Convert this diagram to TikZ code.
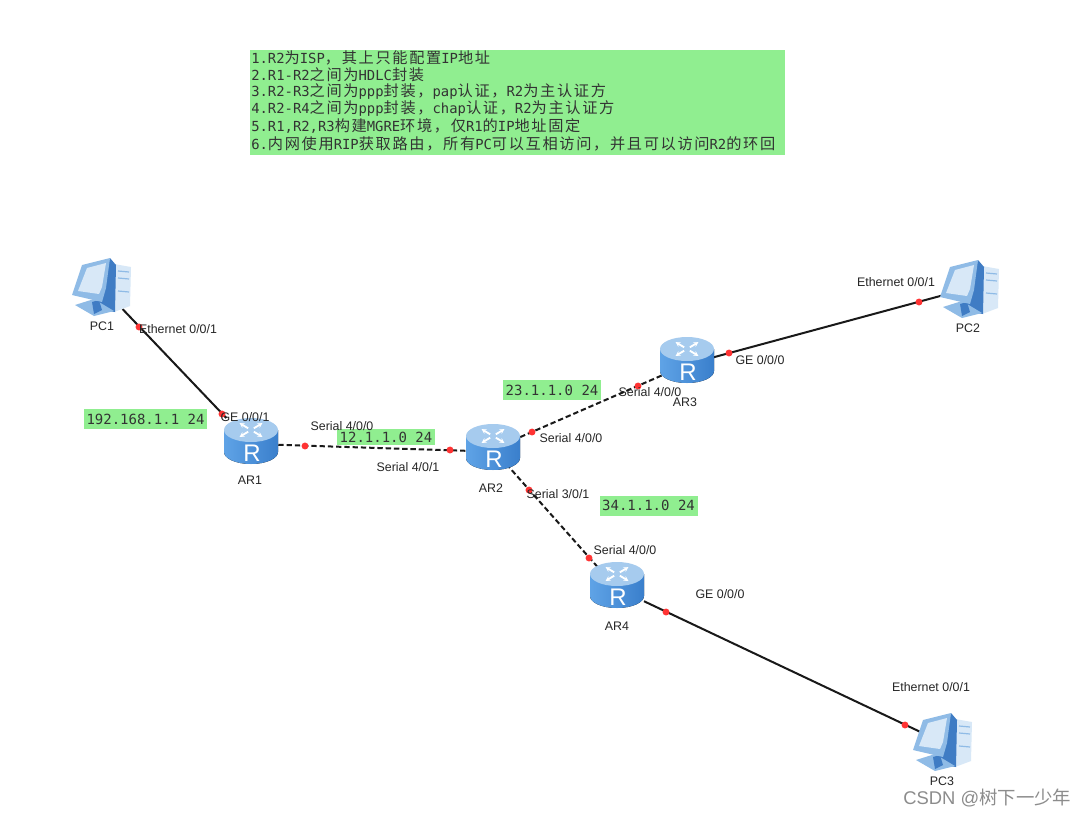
\documentclass[tikz,border=0pt]{standalone}
\usepackage{fontspec}
\usetikzlibrary{arrows.meta}
\setmainfont{Liberation Sans}
\newfontfamily\monof{DejaVu Sans Mono}
\newfontfamily\cjkf{Noto Sans CJK SC}
\newfontfamily\cjkw[LetterSpace=11]{Noto Sans CJK SC}
\newcommand{\zh}[1]{{\cjkw\fontsize{11.4}{11.4}\selectfont #1}}
\definecolor{noteg}{HTML}{90EE90}
\definecolor{rtop}{HTML}{A6CBEE}
\definecolor{rbodyL}{HTML}{5FA3E6}
\definecolor{rbodyR}{HTML}{3A7FCC}
\definecolor{pclight}{HTML}{D8E8F7}
\definecolor{pcmid}{HTML}{8FBBE6}
\definecolor{pcdark}{HTML}{3F7CC4}
\tikzset{
  x=0.75pt,y=-0.75pt,
  devbox/.style={inner sep=0pt,outer sep=0pt,minimum width=40.5pt,minimum height=34.5pt},
  pcbox/.style={inner sep=0pt,outer sep=0pt,minimum width=33pt,minimum height=33pt},
  port/.style={circle,fill=red!80!white,inner sep=0pt,minimum size=5.2pt},
  solidlink/.style={draw=black!90,line width=1.5pt},
  seriallink/.style={draw=black!90,line width=1.5pt,dash pattern=on 4pt off 2.2pt,shorten <=-6pt,shorten >=-6pt},
  lab/.style={font=\fontsize{9.3}{10}\selectfont,text=black!85,inner sep=0pt},
  noteline/.style={anchor=west,inner sep=0pt,font=\monof\fontsize{10.4}{11}\selectfont,text=black!80},
  tag/.style={fill=noteg,inner sep=0pt,font=\monof\fontsize{10.5}{11}\selectfont,text=black!80},
  pics/routericon/.style={code={
    \fill[left color=rbodyL,right color=rbodyR] (-27,-11) -- (-27,11) arc[x radius=27,y radius=12,start angle=180,end angle=0] -- (27,-11) -- cycle;
    \fill[rtop] (0,-11) ellipse[x radius=27,y radius=12];
    \foreach \a in {45,135,225,315}{
      \draw[white,line width=1.4pt,shift={(0,-11)},yscale=0.6,rotate=\a,-{Stealth[length=3.5pt,width=4pt]}] (4,0) -- (16,0);
    }
    \node[font=\fontsize{18}{18}\selectfont,text=white,inner sep=0pt] at (1,12) {R};
  }},
  pics/pcicon/.style={code={
    % local origin = top-left of the 60x57 icon
    \fill[pclight] (42,6) -- (59,9) -- (58,48) -- (42,54) -- cycle;
    \foreach \yy in {13,20,33}{\draw[pcmid,line width=0.9pt] (46,\yy) -- (57,\yy+1);}
    \fill[pcdark] (38,0) -- (44,7) -- (43,54) -- (30,52) -- (26,42) -- cycle;
    \fill[pcmid] (3,47) -- (22,41) -- (42,53) -- (22,58) -- cycle;
    \fill[pcdark] (20,44) -- (27,42) -- (30,52) -- (22,56) -- cycle;
    \fill[pcmid] (0,37) -- (10,7) -- (38,0) -- (34,30) -- (30,44) -- cycle;
    \fill[pclight] (6,33) -- (15,10) -- (34,5) -- (30,29) -- (27,36) -- cycle;
  }}
}
\begin{document}
\begin{tikzpicture}
\useasboundingbox (0,0) rectangle (1089,818);
\fill[white] (0,0) rectangle (1089,818);

% note
\node[fill=noteg,minimum width=401.25pt,minimum height=78.75pt,inner sep=0pt] (note) at (517.5,102.5) {};
\node[noteline] (l1) at (251,57.5) {1.R2\zh{为}ISP\zh{，其上只能配置}IP\zh{地址}};
\node[noteline] (l2) at (251,74.5) {2.R1-R2\zh{之间为}HDLC\zh{封装}};
\node[noteline] (l3) at (251,91.5) {3.R2-R3\zh{之间为}ppp\zh{封装，}pap\zh{认证，}R2\zh{为主认证方}};
\node[noteline] (l4) at (251,109) {4.R2-R4\zh{之间为}ppp\zh{封装，}chap\zh{认证，}R2\zh{为主认证方}};
\node[noteline] (l5) at (251,126.5) {5.R1,R2,R3\zh{构建}MGRE\zh{环境，仅}R1\zh{的}IP\zh{地址固定}};
\node[noteline] (l6) at (251,144) {6.\zh{内网使用}RIP\zh{获取路由，所有}PC\zh{可以互相访问，并且可以访问}R2\zh{的环回}};

% device anchors
\node[pcbox] (pc1) at (102,287) {};
\node[pcbox] (pc2) at (970,288) {};
\node[pcbox] (pc3) at (942,742) {};
\node[devbox] (ar1) at (251,441) {};
\node[devbox] (ar2) at (493,447) {};
\node[devbox] (ar3) at (687,360) {};
\node[devbox] (ar4) at (617,585) {};

% links
\draw[solidlink] (pc1.-47) -- (ar1.137.4);
\draw[seriallink] (ar1.-8) -- (ar2.188);
\draw[seriallink] (ar2.20) -- (ar3.211.4);
\draw[seriallink] (ar2.-51.5) -- (ar4.136.8);
\draw[solidlink] (ar3.6.3) -- (pc2.195);
\draw[solidlink] (ar4.-31.6) -- (pc3.155.6);

% icons
\pic at (ar1) {routericon};
\pic at (ar2) {routericon};
\pic at (ar3) {routericon};
\pic at (ar4) {routericon};
\pic at (72,258) {pcicon};
\pic at (940,260) {pcicon};
\pic at (913,713) {pcicon};

% ports
\node[port] (d1) at (139,327) {};
\node[port] (d2) at (222,414) {};
\node[port] (d3) at (305,446) {};
\node[port] (d4) at (450,450) {};
\node[port] (d5) at (532,432) {};
\node[port] (d6) at (638,386) {};
\node[port] (d7) at (729,353) {};
\node[port] (d8) at (919,302) {};
\node[port] (d9) at (529,490) {};
\node[port] (d10) at (589,558) {};
\node[port] (d11) at (666,612) {};
\node[port] (d12) at (905,725) {};

% tags
\node[tag,minimum width=92.25pt,minimum height=15pt] (t1) at (145.5,419) {192.168.1.1 24};
\node[tag,minimum width=73.5pt,minimum height=12pt] (t2) at (386,437) {12.1.1.0 24};
\node[tag,minimum width=73.5pt,minimum height=15pt] (t3) at (552,390) {23.1.1.0 24};
\node[tag,minimum width=73.5pt,minimum height=15pt] (t4) at (648.5,505.5) {34.1.1.0 24};

% labels
\node[lab] (n1) at (102,326) {PC1};
\node[lab] (n2) at (968,328) {PC2};
\node[lab] (n3) at (942,781) {PC3};
\node[lab] (n4) at (250,480) {AR1};
\node[lab] (n5) at (491,488) {AR2};
\node[lab] (n6) at (685,402) {AR3};
\node[lab] (n7) at (617,626) {AR4};
\node[lab] (e1) at (178,329) {Ethernet 0/0/1};
\node[lab] (e2) at (245,417) {GE 0/0/1};
\node[lab] (e3) at (342,426) {Serial 4/0/0};
\node[lab] (e4) at (408,467) {Serial 4/0/1};
\node[lab] (e5) at (571,438) {Serial 4/0/0};
\node[lab] (e6) at (650,392) {Serial 4/0/0};
\node[lab] (e7) at (558,494) {Serial 3/0/1};
\node[lab] (e8) at (625,550) {Serial 4/0/0};
\node[lab] (e9) at (760,360) {GE 0/0/0};
\node[lab] (e10) at (896,282) {Ethernet 0/0/1};
\node[lab] (e11) at (720,594) {GE 0/0/0};
\node[lab] (e12) at (931,687) {Ethernet 0/0/1};

% watermark
\node[anchor=west,inner sep=0pt,text=black!45,font=\fontsize{13.8}{14}\selectfont] (wm) at (903,798) {CSDN @{\cjkf 树下一少年}};
\end{tikzpicture}
\end{document}
